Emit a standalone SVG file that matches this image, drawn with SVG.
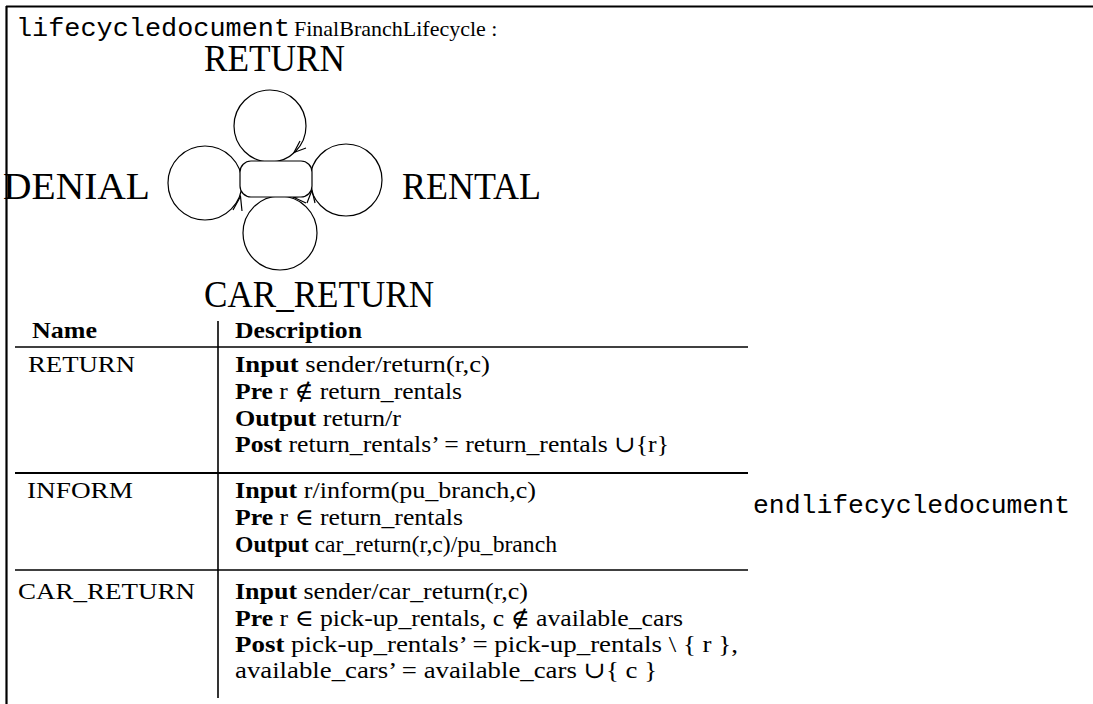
<svg xmlns="http://www.w3.org/2000/svg" width="1093" height="704" viewBox="0 0 1093 704">
<style>
.serif{font-family:"Liberation Serif","DejaVu Serif",serif;fill:#000}
.mono{font-family:"Liberation Mono","DejaVu Sans Mono",monospace;fill:#000}
.big{font-size:37px}
.tb{font-size:23px}
.b{font-weight:bold}
.ln{stroke:#000;fill:none}
</style>
<rect width="1093" height="704" fill="#fff"/>
<g id="frame" class="ln">
<line x1="6" y1="6.5" x2="1093" y2="6.5" stroke-width="2.2"/>
<line x1="6.5" y1="6" x2="6.5" y2="704" stroke-width="2.2"/>
</g>
<g id="title">
<text class="mono" x="16" y="36" font-size="25" textLength="274" lengthAdjust="spacingAndGlyphs">lifecycledocument</text>
<text class="serif" x="294" y="36" font-size="22">FinalBranchLifecycle :</text>
</g>
<g id="connectors" class="ln" stroke-width="1.2">
<circle cx="270" cy="126" r="36"/>
<circle cx="205" cy="183" r="37"/>
<circle cx="346" cy="180" r="36"/>
<circle cx="280" cy="233" r="37"/>
<polyline points="300,141 294,152.5 306,148"/>
<polyline points="233,210 240.5,196.5 242,211"/>
<polyline points="307,203 312,190 315,203"/>
<polyline points="307,195 294,197.5 306,203"/>
</g>
<g id="state">
<rect x="240" y="161" width="72" height="36" rx="11" fill="#fff" stroke="#000" stroke-width="1.2"/>
</g>
<g id="label-RETURN"><text class="serif big" x="204" y="71" textLength="141" lengthAdjust="spacingAndGlyphs">RETURN</text></g>
<g id="label-DENIAL"><text class="serif big" x="3" y="199" textLength="147" lengthAdjust="spacingAndGlyphs">DENIAL</text></g>
<g id="label-RENTAL"><text class="serif big" x="402" y="199" textLength="139" lengthAdjust="spacingAndGlyphs">RENTAL</text></g>
<g id="label-CAR_RETURN"><text class="serif big" x="204" y="307" textLength="230" lengthAdjust="spacingAndGlyphs">CAR_RETURN</text></g>
<g id="table">
<g class="ln">
<line x1="218" y1="321" x2="218" y2="698" stroke-width="1.6"/>
<line x1="15" y1="347" x2="748" y2="347" stroke-width="1.6"/>
<line x1="15" y1="473" x2="748" y2="473" stroke-width="2.2"/>
<line x1="15" y1="570" x2="748" y2="570" stroke-width="1.6"/>
</g>
<text class="serif tb b" x="32" y="338" textLength="65" lengthAdjust="spacingAndGlyphs">Name</text>
<text class="serif tb b" x="235" y="338" textLength="127" lengthAdjust="spacingAndGlyphs">Description</text>
<text class="serif tb" x="28" y="372" textLength="107" lengthAdjust="spacingAndGlyphs">RETURN</text>
<text class="serif tb" x="235" y="372" textLength="255" lengthAdjust="spacingAndGlyphs"><tspan class="b">Input</tspan> sender/return(r,c)</text>
<text class="serif tb" x="235" y="399" textLength="227" lengthAdjust="spacingAndGlyphs"><tspan class="b">Pre</tspan> r ∉ return_rentals</text>
<text class="serif tb" x="235" y="426" textLength="166" lengthAdjust="spacingAndGlyphs"><tspan class="b">Output</tspan> return/r</text>
<text class="serif tb" x="235" y="452" textLength="434" lengthAdjust="spacingAndGlyphs"><tspan class="b">Post</tspan> return_rentals’ = return_rentals ∪{r}</text>
<text class="serif tb" x="27" y="498" textLength="106" lengthAdjust="spacingAndGlyphs">INFORM</text>
<text class="serif tb" x="235" y="498" textLength="301" lengthAdjust="spacingAndGlyphs"><tspan class="b">Input</tspan> r/inform(pu_branch,c)</text>
<text class="serif tb" x="235" y="525" textLength="228" lengthAdjust="spacingAndGlyphs"><tspan class="b">Pre</tspan> r ∈ return_rentals</text>
<text class="serif tb" x="235" y="552" textLength="322" lengthAdjust="spacingAndGlyphs"><tspan class="b">Output</tspan> car_return(r,c)/pu_branch</text>
<text class="serif tb" x="18" y="599" textLength="177" lengthAdjust="spacingAndGlyphs">CAR_RETURN</text>
<text class="serif tb" x="235" y="599" textLength="293" lengthAdjust="spacingAndGlyphs"><tspan class="b">Input</tspan> sender/car_return(r,c)</text>
<text class="serif tb" x="235" y="626" textLength="448" lengthAdjust="spacingAndGlyphs"><tspan class="b">Pre</tspan> r ∈ pick-up_rentals, c ∉ available_cars</text>
<text class="serif tb" x="235" y="652" textLength="503" lengthAdjust="spacingAndGlyphs"><tspan class="b">Post</tspan> pick-up_rentals’ = pick-up_rentals \ { r },</text>
<text class="serif tb" x="235" y="678" textLength="422" lengthAdjust="spacingAndGlyphs">available_cars’ = available_cars ∪{ c }</text>
</g>
<g id="end">
<text class="mono" x="753" y="513" font-size="25" textLength="317" lengthAdjust="spacingAndGlyphs">endlifecycledocument</text>
</g>
</svg>
